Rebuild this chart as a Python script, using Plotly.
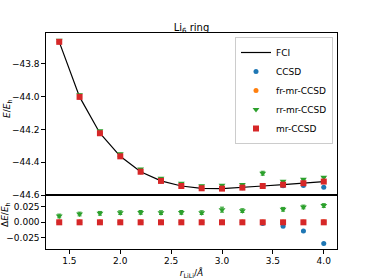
import plotly.graph_objects as go
from plotly.subplots import make_subplots

r = [1.4, 1.6, 1.8, 2.0, 2.2, 2.4, 2.6, 2.8, 3.0, 3.2, 3.4, 3.6, 3.8, 4.0]
e_fci = [-43.665, -44.001, -44.223, -44.364, -44.458, -44.514, -44.545,
         -44.559, -44.561, -44.555, -44.545, -44.537, -44.528, -44.518]
d_ccsd = [0.0, 0.0, 0.0, 0.0, 0.0, 0.0, 0.0, 0.0, 0.0, 0.0, -0.002, -0.0065, -0.014, -0.034]
d_fr = [0.0005, 0.0005, 0.0005, 0.0005, 0.0005, 0.0005, 0.0005, 0.0005, 0.0005, 0.0005, 0.0005, 0.0005, 0.0005, 0.001]
d_rr = [0.0102, 0.0134, 0.0145, 0.0156, 0.016, 0.0156, 0.016, 0.0156, 0.0204, 0.0188, 0.078, 0.021, 0.0247, 0.027]
d_mr = [0.0, 0.0, 0.0, 0.0, 0.0, 0.0, 0.0, 0.0, 0.0, 0.0, 0.0, 0.0, 0.0, 0.0]
err_ccsd = [0.001] * 14
err_fr = [0.002] * 14
err_rr = [0.003, 0.003, 0.003, 0.003, 0.003, 0.003, 0.003, 0.003, 0.004, 0.003, 0.012, 0.003, 0.003, 0.003]
err_mr = [0.002] * 14

series = [
    ("CCSD", d_ccsd, err_ccsd, "#1f77b4", "circle", 5),
    ("fr-mr-CCSD", d_fr, err_fr, "#ff7f0e", "circle", 5),
    ("rr-mr-CCSD", d_rr, err_rr, "#2ca02c", "triangle-down", 6),
    ("mr-CCSD", d_mr, err_mr, "#d62728", "square", 6),
]

fig = make_subplots(rows=2, cols=1, shared_xaxes=True, vertical_spacing=0,
                    row_heights=[0.75, 0.25])

fig.add_trace(go.Scatter(x=r, y=e_fci, mode="lines", name="FCI",
                         line=dict(color="black", width=1.2)), row=1, col=1)

for name, d, err, col, sym, sz in series:
    e = [a + b for a, b in zip(e_fci, d)]
    fig.add_trace(go.Scatter(x=r, y=e, mode="markers", name=name,
                             marker=dict(color=col, symbol=sym, size=sz, line=dict(width=0)),
                             error_y=dict(type="data", array=err, color=col, thickness=1, width=2)),
                  row=1, col=1)
    fig.add_trace(go.Scatter(x=r, y=d, mode="markers", name=name, showlegend=False,
                             marker=dict(color=col, symbol=sym, size=sz, line=dict(width=0)),
                             error_y=dict(type="data", array=err, color=col, thickness=1, width=2)),
                  row=2, col=1)

font = dict(family="DejaVu Sans", size=9, color="black")
axis_common = dict(showline=True, linecolor="black", linewidth=1.2, mirror=True,
                   showgrid=False, zeroline=False, tickfont=font, automargin=False,
                   ticks="outside", ticklen=3.5, tickwidth=0.8, tickcolor="black")

fig.update_xaxes(range=[1.27, 4.13], **axis_common)
fig.update_xaxes(tickvals=[1.5, 2.0, 2.5, 3.0, 3.5, 4.0], ticks="", row=1, col=1)
fig.update_xaxes(tickvals=[1.5, 2.0, 2.5, 3.0, 3.5, 4.0],
                 ticktext=["1.5", "2.0", "2.5", "3.0", "3.5", "4.0"],
                 title=dict(text="<i>r</i><sub>LiLi</sub>/<i>Å</i>", font=font, standoff=4),
                 row=2, col=1)
fig.update_yaxes(**axis_common)
fig.update_yaxes(range=[-44.6, -43.611],
                 tickvals=[-43.8, -44.0, -44.2, -44.4, -44.6],
                 ticktext=["\u221243.8", "\u221244.0", "\u221244.2", "\u221244.4", "\u221244.6"],
                 row=1, col=1)
fig.update_yaxes(range=[-0.043, 0.044],
                 tickvals=[0.025, 0.0, -0.025],
                 ticktext=["0.025", "0.000", "\u22120.025"],
                 row=2, col=1)

W, H = 374, 280
ML, MR, MT, MB = 46, 37, 33, 31
PW, PH = W - ML - MR, H - MT - MB

def px_x(x):
    return (x - ML) / PW

def px_y(y):
    return (H - MB - y) / PH

fig.add_annotation(text="<i>E</i>/<i>E</i><sub>h</sub>", xref="paper", yref="paper",
                   x=px_x(7), y=px_y(109), textangle=-90, showarrow=False,
                   xanchor="center", yanchor="middle", font=font)
fig.add_annotation(text="Δ<i>E</i>/<i>E</i><sub>h</sub>", xref="paper", yref="paper",
                   x=px_x(5), y=px_y(215), textangle=-90, showarrow=False,
                   xanchor="center", yanchor="middle", font=font)

fig.update_layout(
    width=W, height=H,
    margin=dict(l=ML, r=MR, t=MT, b=MB),
    paper_bgcolor="white", plot_bgcolor="white",
    font=font,
    title=dict(text="Li<sub>6</sub> ring", x=191.5 / W, xanchor="center", y=1 - 27 / H, yanchor="middle",
               font=dict(family="DejaVu Sans", size=10, color="black")),
    legend=dict(x=px_x(235), y=px_y(37), xanchor="left", yanchor="top",
                bgcolor="rgba(255,255,255,0.8)", bordercolor="#cccccc", borderwidth=1,
                font=dict(family="DejaVu Sans", size=9, color="black"),
                itemwidth=30, tracegroupgap=0),
    showlegend=True,
)

fig.write_html("out.html", config={"displayModeBar": False},
               post_script="document.body.style.margin='0';")
